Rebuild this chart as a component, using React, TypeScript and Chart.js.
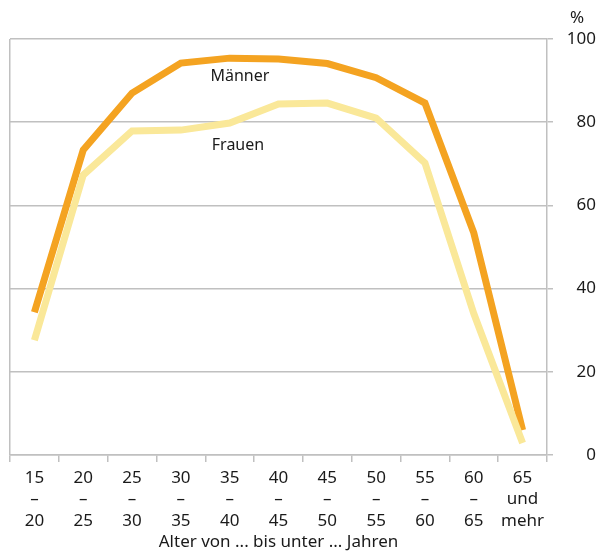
import React, { useEffect, useRef } from "react";
import { Chart, registerables } from "chart.js";

Chart.register(...registerables);

const categories: string[][] = [
  ["15", "–", "20"],
  ["20", "–", "25"],
  ["25", "–", "30"],
  ["30", "–", "35"],
  ["35", "–", "40"],
  ["40", "–", "45"],
  ["45", "–", "50"],
  ["50", "–", "55"],
  ["55", "–", "60"],
  ["60", "–", "65"],
  ["65", "und", "mehr"],
];

const maenner: number[] = [34.3, 73.3, 87.0, 94.2, 95.4, 95.2, 94.1, 90.7, 84.6, 53.4, 6.0];
const frauen: number[] = [27.6, 67.3, 77.9, 78.1, 79.8, 84.4, 84.6, 81.0, 70.2, 34.0, 2.9];

const yTicks: number[] = [0, 20, 40, 60, 80, 100];

const FONT = "'Noto Sans', sans-serif";
const GRID = "#c0c0c0";
const TEXT = "#1a1a1a";

const labelPlugin = {
  id: "seriesLabels",
  afterDatasetsDraw(chart: any) {
    const { ctx, scales } = chart;
    const x = scales.x;
    const y = scales.y;
    ctx.save();
    ctx.fillStyle = TEXT;
    ctx.font = `16px ${FONT}`;
    ctx.textAlign = "center";
    ctx.textBaseline = "middle";
    ctx.fillText("Männer", x.getPixelForValue(4.21), y.getPixelForValue(90.9));
    ctx.fillText("Frauen", x.getPixelForValue(4.17), y.getPixelForValue(74.3));
    ctx.font = `17px ${FONT}`;
    ctx.fillText("%", 577, y.top - 21);
    ctx.restore();
  },
};

export default function App() {
  const ref = useRef<HTMLCanvasElement | null>(null);

  useEffect(() => {
    if (!ref.current) return;
    const n = categories.length;
    const chart = new Chart(ref.current, {
      type: "line",
      data: {
        labels: categories as any,
        datasets: [
          {
            label: "Frauen",
            data: frauen,
            borderColor: "#fae899",
            borderWidth: 7,
            pointRadius: 0,
            tension: 0,
            borderCapStyle: "butt",
            borderJoinStyle: "miter",
          },
          {
            label: "Männer",
            data: maenner,
            borderColor: "#f4a321",
            borderWidth: 7,
            pointRadius: 0,
            tension: 0,
            borderCapStyle: "butt",
            borderJoinStyle: "miter",
          },
        ],
      },
      options: {
        animation: false,
        responsive: true,
        maintainAspectRatio: false,
        layout: { padding: { left: 10, right: 0, top: 39, bottom: 0 } },
        plugins: {
          legend: { display: false },
          tooltip: { enabled: false },
        },
        scales: {
          x: {
            type: "category",
            offset: true,
            afterFit: (axis: any) => {
              axis.height = 96;
            },
            grid: {
              offset: true,
              drawOnChartArea: true,
              color: (c: any) => (c.index === 0 || c.index === n ? GRID : "rgba(0,0,0,0)"),
              tickColor: GRID,
              tickLength: 7,
              lineWidth: 1.5,
            },
            border: { display: true, color: GRID, width: 1.5 },
            ticks: {
              color: TEXT,
              font: { family: FONT, size: 17, lineHeight: 1.27 },
              maxRotation: 0,
              autoSkip: false,
              padding: 5,
            },
            title: {
              display: true,
              text: "Alter von ... bis unter ... Jahren",
              color: TEXT,
              font: { family: FONT, size: 17, lineHeight: 1.0 },
              padding: { top: 0, bottom: 0 },
            },
          },
          y: {
            position: "right",
            min: 0,
            max: 100,
            afterBuildTicks: (axis: any) => {
              axis.ticks = yTicks.map((v) => ({ value: v }));
            },
            afterFit: (axis: any) => {
              axis.width = 49;
            },
            grid: {
              color: GRID,
              tickColor: GRID,
              tickLength: 6,
              lineWidth: 1.5,
            },
            border: { display: true, color: GRID, width: 1.5 },
            ticks: {
              color: TEXT,
              font: { family: FONT, size: 17 },
              crossAlign: "far",
              padding: 10,
            },
          },
        },
      },
      plugins: [labelPlugin],
    });
    return () => chart.destroy();
  }, []);

  return (
    <div style={{ position: "fixed", left: 0, top: 0, width: 596, height: 551 }}>
      <canvas ref={ref} />
    </div>
  );
}
